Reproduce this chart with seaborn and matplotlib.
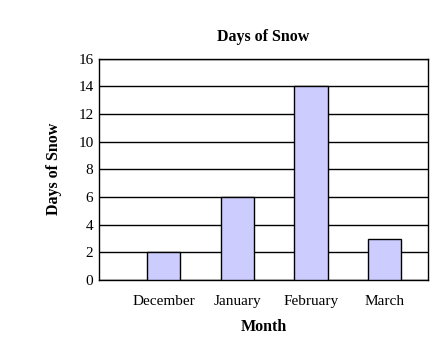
import numpy as np
import pandas as pd
import matplotlib
matplotlib.use("Agg")
import matplotlib.pyplot as plt
import seaborn as sns

# data
months = ["December", "January", "February", "March"]
snow_days = [2, 6, 14, 3]
y_ticks = [0, 2, 4, 6, 8, 10, 12, 14, 16]

df = pd.DataFrame({"Month": months, "Days": snow_days})

sns.set_theme(style="white")
plt.rcParams['font.family'] = ['Liberation Serif', 'DejaVu Serif']
plt.rcParams['text.color'] = 'black'
plt.rcParams['axes.labelcolor'] = 'black'

fig = plt.figure(figsize=(4.45, 3.55), dpi=100)
ax = fig.add_axes([0.2225, 0.2113, 0.7393, 0.6233])

sns.barplot(data=df, x="Month", y="Days", color="#ccccff", saturation=1,
            width=0.45, edgecolor="black", linewidth=1.0, ax=ax, zorder=3)

ax.set_ylim(0, 16)
ax.set_yticks(y_ticks)
ax.set_xlim(-0.88, 3.59)
ax.yaxis.grid(True, color="black", linewidth=1.0, zorder=0)
ax.set_axisbelow(True)
for s in ax.spines.values():
    s.set_color("black")
    s.set_linewidth(1.0)

ax.tick_params(axis="both", length=0, labelsize=11, colors="black")
ax.tick_params(axis="x", pad=11)
ax.tick_params(axis="y", pad=4)

ax.set_title("Days of Snow", fontsize=11.5, fontweight="bold", color="black", pad=13)
ax.set_xlabel("Month", fontsize=11.5, fontweight="bold", labelpad=8)
ax.set_ylabel("Days of Snow", fontsize=11.5, fontweight="bold", labelpad=12)

fig.savefig("out.png", dpi=100)
